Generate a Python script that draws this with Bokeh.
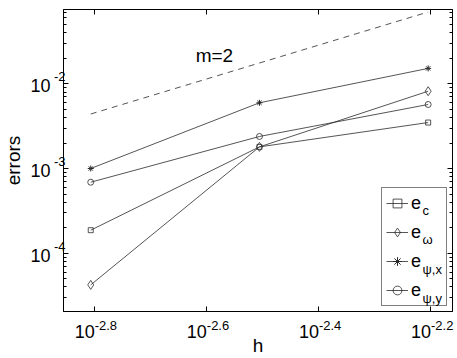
from bokeh.plotting import figure
from bokeh.models import Range1d, FixedTicker, LogAxis, Label, Legend, LegendItem
from bokeh.embed import file_html
from bokeh.resources import INLINE

# ---- data ----
h = [1/640, 1/320, 1/160]
e_c = [1.87e-4, 1.80e-3, 3.49e-3]
e_omega = [4.23e-5, 1.80e-3, 8.18e-3]
e_psi_x = [1.0e-3, 5.97e-3, 1.52e-2]
e_psi_y = [6.89e-4, 2.39e-3, 5.70e-3]
h_ref = [1/640, 1/160]
ref_line = [4.4e-3, 7.04e-2]

xtick_exps = [-2.8, -2.6, -2.4, -2.2]
xtick_labels = ["-2.8", "-2.6", "-2.4", "-2.2"]
ytick_exps = [-4, -3, -2]
ytick_labels = ["-4", "-3", "-2"]
tick_base = "10"
legend_subs = ["c", "\u03c9", "\u03c8,x", "\u03c8,y"]

FONT = "Liberation Sans"
LC = "#2a2a2a"

XS, XE = -2.8548, -2.1607      # log10 x range
YS, YE = -4.688, -1.1228       # log10 y range
FW, FH = 389, 302
PPX = FW / (XE - XS)
PPY = FH / (YE - YS)

p = figure(x_axis_type="log", y_axis_type="log",
           x_range=Range1d(10**XS, 10**XE), y_range=Range1d(10**YS, 10**YE),
           frame_width=FW, frame_height=FH,
           min_border_left=62, min_border_right=6, min_border_top=9, min_border_bottom=47,
           output_backend="svg", toolbar_location=None)
p.background_fill_color = "white"
p.border_fill_color = "white"
p.grid.visible = False
p.outline_line_color = "black"
p.outline_line_width = 1

xticks = [10**t for t in xtick_exps]
yticks = [10.0**t for t in ytick_exps]
yminor = [m * 10.0**d for d in range(-5, 0) for m in range(2, 10)]

# shifted ranges that place the "10" and exponent parts of each tick label
sup_dx, base_dx = 11.7, -9.5      # px, horizontal offset of label centres
sup_dy, base_dy = 7.0, -1.8       # px, upward offset of label centres
p.extra_x_ranges = {
    "xsup": Range1d(10**(XS - sup_dx / PPX), 10**(XE - sup_dx / PPX)),
    "xbase": Range1d(10**(XS - base_dx / PPX), 10**(XE - base_dx / PPX)),
}
p.extra_y_ranges = {
    "ysup": Range1d(10**(YS - sup_dy / PPY), 10**(YE - sup_dy / PPY)),
    "ybase": Range1d(10**(YS - base_dy / PPY), 10**(YE - base_dy / PPY)),
}

def tick_axis(ax, ticker):
    ax.ticker = ticker
    ax.major_label_overrides = {t: "" for t in ticker.ticks}
    ax.major_label_text_font_size = "1px"
    ax.major_label_standoff = 0
    ax.major_tick_in = 5
    ax.major_tick_out = 0
    ax.minor_tick_in = 3
    ax.minor_tick_out = 0
    ax.axis_line_color = "black"
    ax.major_tick_line_color = "black"
    ax.minor_tick_line_color = "black"

def label_axis(ax, ticks, labels, size, standoff):
    ax.ticker = FixedTicker(ticks=ticks, minor_ticks=[])
    ax.major_label_overrides = dict(zip(ticks, labels))
    ax.major_label_text_font = FONT
    ax.major_label_text_font_size = size
    ax.major_label_text_color = "black"
    ax.major_label_standoff = standoff
    ax.major_tick_in = 0
    ax.major_tick_out = 0
    ax.minor_tick_in = 0
    ax.minor_tick_out = 0
    ax.axis_line_color = None
    ax.major_tick_line_color = None
    ax.minor_tick_line_color = None

def axis_title(ax, text, standoff):
    ax.axis_label = text
    ax.axis_label_text_font = FONT
    ax.axis_label_text_font_size = "19px"
    ax.axis_label_text_font_style = "normal"
    ax.axis_label_text_color = "black"
    ax.axis_label_standoff = standoff

tick_axis(p.xaxis[0], FixedTicker(ticks=xticks, minor_ticks=[]))
tick_axis(p.yaxis[0], FixedTicker(ticks=yticks, minor_ticks=yminor))
top_ax = LogAxis()
right_ax = LogAxis()
tick_axis(top_ax, FixedTicker(ticks=xticks, minor_ticks=[]))
tick_axis(right_ax, FixedTicker(ticks=yticks, minor_ticks=yminor))
p.add_layout(top_ax, "above")
p.add_layout(right_ax, "right")

ax_xsup = LogAxis(x_range_name="xsup")
label_axis(ax_xsup, xticks, xtick_labels, "13px", 9)
ax_xbase = LogAxis(x_range_name="xbase")
label_axis(ax_xbase, xticks, [tick_base] * len(xticks), "18px", -8)
axis_title(ax_xbase, "h", -6)
p.add_layout(ax_xsup, "below")
p.add_layout(ax_xbase, "below")

ax_ysup = LogAxis(y_range_name="ysup")
label_axis(ax_ysup, yticks, ytick_labels, "13px", -2)
ax_ybase = LogAxis(y_range_name="ybase")
label_axis(ax_ybase, yticks, [tick_base] * len(yticks), "18px", 0)
axis_title(ax_ybase, "errors", 3)
p.add_layout(ax_ysup, "left")
p.add_layout(ax_ybase, "left")

# reference slope line
p.line(h_ref, ref_line, line_color=LC, line_width=0.8, line_dash="6 5")

# series
r1l = p.line(h, e_c, line_color=LC, line_width=0.8)
r1s = p.scatter(h, e_c, marker="square", size=5, fill_color=None, line_color=LC, line_width=0.8)
r2l = p.line(h, e_omega, line_color=LC, line_width=0.8)
r2s = p.scatter(h, e_omega, marker="diamond", size=9, fill_color=None, line_color=LC, line_width=0.8)
r3l = p.line(h, e_psi_x, line_color=LC, line_width=0.8)
r3s = p.scatter(h, e_psi_x, marker="asterisk", size=6, fill_color=None, line_color=LC, line_width=1)
r4l = p.line(h, e_psi_y, line_color=LC, line_width=0.8)
r4s = p.scatter(h, e_psi_y, marker="circle", size=6, fill_color=None, line_color=LC, line_width=0.8)

legend = Legend(items=[LegendItem(label="e", renderers=[r1l, r1s]),
                       LegendItem(label="e", renderers=[r2l, r2s]),
                       LegendItem(label="e", renderers=[r3l, r3s]),
                       LegendItem(label="e", renderers=[r4l, r4s])],
                location="bottom_right", margin=5, padding=4, spacing=7,
                glyph_width=22, glyph_height=22, label_height=22, label_width=31,
                label_standoff=3, label_text_font_size="18px", label_text_font=FONT,
                label_text_baseline="alphabetic", label_text_color="black",
                border_line_color="black", border_line_width=1,
                background_fill_color="white", background_fill_alpha=0)
p.add_layout(legend)

# legend subscripts (inside the frame)
for i, s in enumerate(legend_subs):
    p.add_layout(Label(x=359, y=101 - 29.3 * i, x_units="screen", y_units="screen",
                       text=s, text_font=FONT, text_font_size="13px", level="overlay",
                       text_align="left", text_baseline="alphabetic", text_color="black"))

# annotation
p.add_layout(Label(x=10**-2.619, y=10**-1.666, text="m=2", text_font=FONT,
                   text_font_size="19px", text_align="left", text_baseline="alphabetic",
                   text_color="black"))

open("out.html", "w").write(file_html(p, INLINE))
